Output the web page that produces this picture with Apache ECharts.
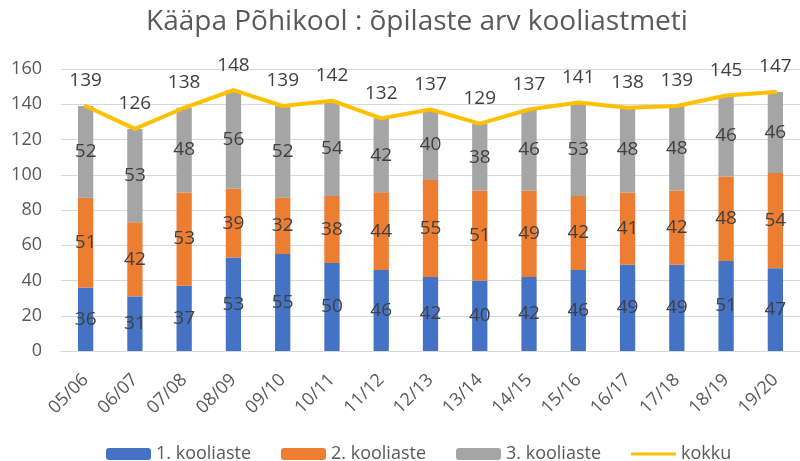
<!DOCTYPE html>
<html><head><meta charset="utf-8">
<script src="https://cdn.jsdelivr.net/npm/echarts@6/dist/echarts.min.js"></script>
<style>html,body{margin:0;padding:0;background:#fff}#c{width:800px;height:461px}</style>
</head><body><div id="c"></div>
<script>
const categories = ["05/06","06/07","07/08","08/09","09/10","10/11","11/12","12/13","13/14","14/15","15/16","16/17","17/18","18/19","19/20"];
const stage1 = [36,31,37,53,55,50,46,42,40,42,46,49,49,51,47];
const stage2 = [51,42,53,39,32,38,44,55,51,49,42,41,42,48,54];
const stage3 = [52,53,48,56,52,54,42,40,38,46,53,48,48,46,46];
const total = [139,126,138,148,139,142,132,137,129,137,141,138,139,145,147];
const yTicks = [0,20,40,60,80,100,120,140,160];

const FONT = "Open Sans";
const chart = echarts.init(document.getElementById('c'), null, {renderer:'canvas'});
const barLabel = {show:true, position:'inside', color:'#404040', fontSize:19, fontFamily:FONT};
chart.setOption({
  animation:false,
  textStyle:{fontFamily:FONT},
  title:{text:'Kääpa Põhikool : õpilaste arv kooliastmeti', left:141, top:3,
    textStyle:{fontSize:28, fontWeight:'normal', color:'#595959', fontFamily:FONT}},
  grid:{left:61, right:-6, top:69, bottom:110},
  legend:{left:101, bottom:-7, itemWidth:45, itemHeight:12, itemGap:30,
    textStyle:{fontSize:18, color:'#595959', fontFamily:FONT},
    data:[{name:'1. kooliaste'},{name:'2. kooliaste'},{name:'3. kooliaste'},{name:'kokku', icon:'path://M0,5 L45,5 L45,8 L0,8 Z'}]},
  xAxis:{type:'category', data:categories,
    axisLine:{lineStyle:{color:'#D9D9D9'}}, axisTick:{show:false},
    axisLabel:{rotate:45, fontSize:18, color:'#595959', margin:26, fontFamily:FONT}},
  yAxis:{type:'value', min:yTicks[0], max:yTicks[yTicks.length-1], interval:20,
    axisLine:{show:false}, axisTick:{show:false},
    splitLine:{lineStyle:{color:'#D9D9D9', width:1}},
    axisLabel:{fontSize:18, color:'#595959', margin:19, fontFamily:FONT}},
  series:[
    {name:'1. kooliaste', type:'bar', stack:'s', data:stage1, barWidth:'31%', itemStyle:{color:'#4472C4'}, label:barLabel},
    {name:'2. kooliaste', type:'bar', stack:'s', data:stage2, itemStyle:{color:'#ED7D31'}, label:barLabel},
    {name:'3. kooliaste', type:'bar', stack:'s', data:stage3, itemStyle:{color:'#A5A5A5'}, label:barLabel},
    {name:'kokku', type:'line', data:total, symbol:'circle', symbolSize:3, showSymbol:true,
      lineStyle:{color:'#FFC000', width:4, cap:'round', join:'round'}, itemStyle:{color:'#FFC000'},
      label:{show:true, position:'top', distance:14, color:'#404040', fontSize:19, fontFamily:FONT}}
  ]
});
</script></body></html>
